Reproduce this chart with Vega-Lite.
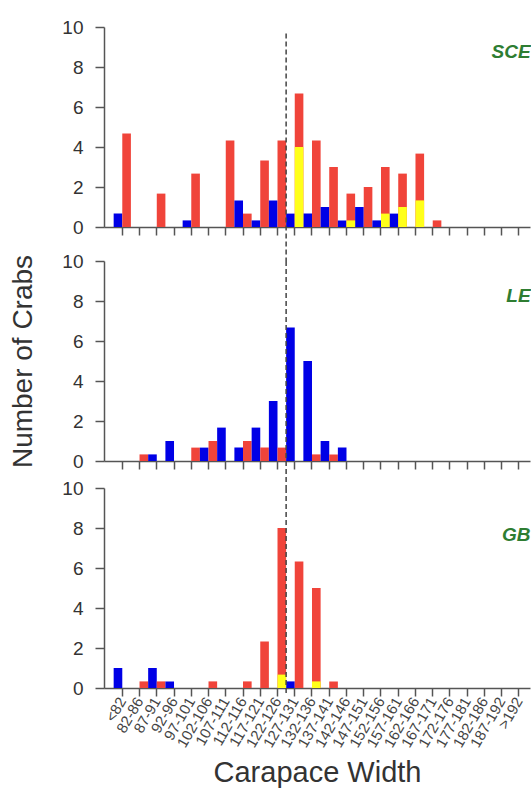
{
  "$schema": "https://vega.github.io/schema/vega-lite/v6.json",
  "background": "white",
  "padding": {"left": 9, "top": 18, "right": 0, "bottom": 0},
  "config": {
    "font": "Liberation Sans",
    "view": {"stroke": null},
    "axis": {
      "grid": false,
      "domainColor": "#555555",
      "domainWidth": 1.5,
      "tickColor": "#555555",
      "tickWidth": 1.5,
      "labelColor": "#333333",
      "titleColor": "#333333",
      "titleFontWeight": "normal",
      "labelFont": "Liberation Sans",
      "titleFont": "Liberation Sans",
      "labelOverlap": false,
      "labelFlush": false
    },
    "axisY": {"tickCount": 6, "labelOverlap": false, "labelBound": false}
  },
  "datasets": {
    "counts": [
      {"site": "SCE", "cw": "<82", "group": "M", "series": "Male", "n": 0.67},
      {"site": "SCE", "cw": "<82", "group": "F", "series": "Female", "n": 4.67},
      {"site": "SCE", "cw": "87-91", "group": "F", "series": "Female", "n": 1.67},
      {"site": "SCE", "cw": "97-101", "group": "M", "series": "Male", "n": 0.33},
      {"site": "SCE", "cw": "97-101", "group": "F", "series": "Female", "n": 2.67},
      {"site": "SCE", "cw": "107-111", "group": "F", "series": "Female", "n": 4.33},
      {"site": "SCE", "cw": "112-116", "group": "M", "series": "Male", "n": 1.33},
      {"site": "SCE", "cw": "112-116", "group": "F", "series": "Female", "n": 0.67},
      {"site": "SCE", "cw": "117-121", "group": "M", "series": "Male", "n": 0.33},
      {"site": "SCE", "cw": "117-121", "group": "F", "series": "Female", "n": 3.33},
      {"site": "SCE", "cw": "122-126", "group": "M", "series": "Male", "n": 1.33},
      {"site": "SCE", "cw": "122-126", "group": "F", "series": "Female", "n": 4.33},
      {"site": "SCE", "cw": "127-131", "group": "M", "series": "Male", "n": 0.67},
      {"site": "SCE", "cw": "127-131", "group": "F", "series": "Female", "n": 6.67},
      {"site": "SCE", "cw": "132-136", "group": "M", "series": "Male", "n": 0.67},
      {"site": "SCE", "cw": "132-136", "group": "F", "series": "Female", "n": 4.33},
      {"site": "SCE", "cw": "137-141", "group": "M", "series": "Male", "n": 1.0},
      {"site": "SCE", "cw": "137-141", "group": "F", "series": "Female", "n": 3.0},
      {"site": "SCE", "cw": "142-146", "group": "M", "series": "Male", "n": 0.33},
      {"site": "SCE", "cw": "142-146", "group": "F", "series": "Female", "n": 1.67},
      {"site": "SCE", "cw": "147-151", "group": "M", "series": "Male", "n": 1.0},
      {"site": "SCE", "cw": "147-151", "group": "F", "series": "Female", "n": 2.0},
      {"site": "SCE", "cw": "152-156", "group": "M", "series": "Male", "n": 0.33},
      {"site": "SCE", "cw": "152-156", "group": "F", "series": "Female", "n": 3.0},
      {"site": "SCE", "cw": "157-161", "group": "M", "series": "Male", "n": 0.67},
      {"site": "SCE", "cw": "157-161", "group": "F", "series": "Female", "n": 2.67},
      {"site": "SCE", "cw": "162-166", "group": "F", "series": "Female", "n": 3.67},
      {"site": "SCE", "cw": "167-171", "group": "F", "series": "Female", "n": 0.33},
      {"site": "SCE", "cw": "127-131", "group": "F", "series": "Ovigerous", "n": 4.0},
      {"site": "SCE", "cw": "142-146", "group": "F", "series": "Ovigerous", "n": 0.33},
      {"site": "SCE", "cw": "152-156", "group": "F", "series": "Ovigerous", "n": 0.67},
      {"site": "SCE", "cw": "157-161", "group": "F", "series": "Ovigerous", "n": 1.0},
      {"site": "SCE", "cw": "162-166", "group": "F", "series": "Ovigerous", "n": 1.33},

      {"site": "LE", "cw": "82-86", "group": "F", "series": "Female", "n": 0.33},
      {"site": "LE", "cw": "87-91", "group": "M", "series": "Male", "n": 0.33},
      {"site": "LE", "cw": "92-96", "group": "M", "series": "Male", "n": 1.0},
      {"site": "LE", "cw": "97-101", "group": "F", "series": "Female", "n": 0.67},
      {"site": "LE", "cw": "102-106", "group": "M", "series": "Male", "n": 0.67},
      {"site": "LE", "cw": "102-106", "group": "F", "series": "Female", "n": 1.0},
      {"site": "LE", "cw": "107-111", "group": "M", "series": "Male", "n": 1.67},
      {"site": "LE", "cw": "112-116", "group": "M", "series": "Male", "n": 0.67},
      {"site": "LE", "cw": "112-116", "group": "F", "series": "Female", "n": 1.0},
      {"site": "LE", "cw": "117-121", "group": "M", "series": "Male", "n": 1.67},
      {"site": "LE", "cw": "117-121", "group": "F", "series": "Female", "n": 0.67},
      {"site": "LE", "cw": "122-126", "group": "M", "series": "Male", "n": 3.0},
      {"site": "LE", "cw": "122-126", "group": "F", "series": "Female", "n": 0.67},
      {"site": "LE", "cw": "127-131", "group": "M", "series": "Male", "n": 6.67},
      {"site": "LE", "cw": "132-136", "group": "M", "series": "Male", "n": 5.0},
      {"site": "LE", "cw": "132-136", "group": "F", "series": "Female", "n": 0.33},
      {"site": "LE", "cw": "137-141", "group": "M", "series": "Male", "n": 1.0},
      {"site": "LE", "cw": "137-141", "group": "F", "series": "Female", "n": 0.33},
      {"site": "LE", "cw": "142-146", "group": "M", "series": "Male", "n": 0.67},

      {"site": "GB", "cw": "<82", "group": "M", "series": "Male", "n": 1.0},
      {"site": "GB", "cw": "82-86", "group": "F", "series": "Female", "n": 0.33},
      {"site": "GB", "cw": "87-91", "group": "M", "series": "Male", "n": 1.0},
      {"site": "GB", "cw": "87-91", "group": "F", "series": "Female", "n": 0.33},
      {"site": "GB", "cw": "92-96", "group": "M", "series": "Male", "n": 0.33},
      {"site": "GB", "cw": "102-106", "group": "F", "series": "Female", "n": 0.33},
      {"site": "GB", "cw": "112-116", "group": "F", "series": "Female", "n": 0.33},
      {"site": "GB", "cw": "117-121", "group": "F", "series": "Female", "n": 2.33},
      {"site": "GB", "cw": "122-126", "group": "F", "series": "Female", "n": 8.0},
      {"site": "GB", "cw": "127-131", "group": "M", "series": "Male", "n": 0.33},
      {"site": "GB", "cw": "127-131", "group": "F", "series": "Female", "n": 6.33},
      {"site": "GB", "cw": "132-136", "group": "F", "series": "Female", "n": 5.0},
      {"site": "GB", "cw": "137-141", "group": "F", "series": "Female", "n": 0.33},
      {"site": "GB", "cw": "122-126", "group": "F", "series": "Ovigerous", "n": 0.67},
      {"site": "GB", "cw": "132-136", "group": "F", "series": "Ovigerous", "n": 0.33}
    ]
  },
  "spacing": 34,
  "bounds": "flush",
  "vconcat": [
    {
      "width": 426,
      "height": 200,
      "layer": [
        {
          "data": {"name": "counts"},
          "transform": [{"filter": "datum.site === 'SCE'"}],
          "mark": {"type": "bar"},
          "encoding": {
            "x": {
              "field": "cw", "type": "nominal", "sort": null,
              "scale": {"domain": ["<82","82-86","87-91","92-96","97-101","102-106","107-111","112-116","117-121","122-126","127-131","132-136","137-141","142-146","147-151","152-156","157-161","162-166","167-171","172-176","177-181","182-186","187-192",">192"], "paddingInner": 0, "paddingOuter": 0.35, "align": 0.8},
              "axis": {"title": null, "labels": false, "tickSize": 8}
            },
            "xOffset": {"field": "group", "type": "nominal", "scale": {"domain": ["M", "F"], "paddingInner": 0, "paddingOuter": 0}},
            "y": {
              "field": "n", "type": "quantitative", "stack": null,
              "scale": {"domain": [0, 10], "nice": false},
              "axis": {"title": null, "values": [0, 2, 4, 6, 8, 10], "tickCount": 6, "labelOverlap": false, "tickSize": 9, "labelPadding": 12, "labelFontSize": 19}
            },
            "color": {
              "field": "series", "type": "nominal",
              "scale": {"domain": ["Male", "Female", "Ovigerous"], "range": ["#0000e6", "#f0443a", "#ffff1a"]},
              "legend": null
            }
          }
        },
        {
          "data": {"values": [{}]},
          "mark": {"type": "rule", "color": "#444444", "strokeWidth": 1.5, "strokeDash": [5, 3]},
          "encoding": {
            "x": {"datum": "127-131", "bandPosition": 0},
            "y": {"datum": 9.67, "scale": {"domain": [0, 10], "nice": false}, "axis": {"title": null, "values": [0, 2, 4, 6, 8, 10], "tickCount": 6, "labelOverlap": false, "tickSize": 9, "labelPadding": 12, "labelFontSize": 19}},
            "y2": {"datum": -1.7}
          }
        },
        {
          "data": {"values": [{}]},
          "mark": {"type": "text", "align": "right", "baseline": "middle", "fontStyle": "italic", "fontWeight": "bold", "fontSize": 19, "color": "#2e7d32", "dx": 3},
          "encoding": {
            "x": {"datum": ">192", "bandPosition": 1},
            "y": {"datum": 8.75, "scale": {"domain": [0, 10], "nice": false}, "axis": {"title": null, "values": [0, 2, 4, 6, 8, 10], "tickCount": 6, "labelOverlap": false, "tickSize": 9, "labelPadding": 12, "labelFontSize": 19}},
            "text": {"value": "SCE"}
          }
        }
      ]
    },
    {
      "spacing": 27,
      "bounds": "flush",
      "vconcat": [
        {
          "width": 426,
          "height": 200,
          "layer": [
            {
              "data": {"name": "counts"},
              "transform": [{"filter": "datum.site === 'LE'"}],
              "mark": {"type": "bar"},
              "encoding": {
                "x": {
                  "field": "cw", "type": "nominal", "sort": null,
                  "scale": {"domain": ["<82","82-86","87-91","92-96","97-101","102-106","107-111","112-116","117-121","122-126","127-131","132-136","137-141","142-146","147-151","152-156","157-161","162-166","167-171","172-176","177-181","182-186","187-192",">192"], "paddingInner": 0, "paddingOuter": 0.35, "align": 0.8},
                  "axis": {"title": null, "labels": false, "tickSize": 8}
                },
                "xOffset": {"field": "group", "type": "nominal", "scale": {"domain": ["M", "F"], "paddingInner": 0, "paddingOuter": 0}},
                "y": {
                  "field": "n", "type": "quantitative", "stack": null,
                  "scale": {"domain": [0, 10], "nice": false},
                  "axis": {"title": "Number of Crabs", "titleFontSize": 28, "titlePadding": 24, "values": [0, 2, 4, 6, 8, 10], "tickCount": 6, "labelOverlap": false, "tickSize": 9, "labelPadding": 12, "labelFontSize": 19}
                },
                "color": {
                  "field": "series", "type": "nominal",
                  "scale": {"domain": ["Male", "Female", "Ovigerous"], "range": ["#0000e6", "#f0443a", "#ffff1a"]},
                  "legend": null
                }
              }
            },
            {
              "data": {"values": [{}]},
              "mark": {"type": "rule", "color": "#444444", "strokeWidth": 1.5, "strokeDash": [5, 3]},
              "encoding": {
                "x": {"datum": "127-131", "bandPosition": 0},
                "y": {"datum": 10, "scale": {"domain": [0, 10], "nice": false}, "axis": {"title": "Number of Crabs", "titleFontSize": 28, "titlePadding": 24, "values": [0, 2, 4, 6, 8, 10], "tickCount": 6, "labelOverlap": false, "tickSize": 9, "labelPadding": 12, "labelFontSize": 19}},
                "y2": {"datum": -1.35}
              }
            },
            {
              "data": {"values": [{}]},
              "mark": {"type": "text", "align": "right", "baseline": "middle", "fontStyle": "italic", "fontWeight": "bold", "fontSize": 19, "color": "#2e7d32", "dx": 3},
              "encoding": {
                "x": {"datum": ">192", "bandPosition": 1},
                "y": {"datum": 8.25, "scale": {"domain": [0, 10], "nice": false}, "axis": {"title": "Number of Crabs", "titleFontSize": 28, "titlePadding": 24, "values": [0, 2, 4, 6, 8, 10], "tickCount": 6, "labelOverlap": false, "tickSize": 9, "labelPadding": 12, "labelFontSize": 19}},
                "text": {"value": "LE"}
              }
            }
          ]
        },
        {
          "width": 426,
          "height": 200,
          "layer": [
            {
              "data": {"name": "counts"},
              "transform": [{"filter": "datum.site === 'GB'"}],
              "mark": {"type": "bar"},
              "encoding": {
                "x": {
                  "field": "cw", "type": "nominal", "sort": null,
                  "scale": {"domain": ["<82","82-86","87-91","92-96","97-101","102-106","107-111","112-116","117-121","122-126","127-131","132-136","137-141","142-146","147-151","152-156","157-161","162-166","167-171","172-176","177-181","182-186","187-192",">192"], "paddingInner": 0, "paddingOuter": 0.35, "align": 0.8},
                  "axis": {"title": "Carapace Width", "titleFontSize": 29, "titlePadding": 9, "tickSize": 8, "labelAngle": -60, "labelAlign": "right", "labelBaseline": "middle", "labelFontSize": 15, "labelPadding": 2, "labelColor": "#444444"}
                },
                "xOffset": {"field": "group", "type": "nominal", "scale": {"domain": ["M", "F"], "paddingInner": 0, "paddingOuter": 0}},
                "y": {
                  "field": "n", "type": "quantitative", "stack": null,
                  "scale": {"domain": [0, 10], "nice": false},
                  "axis": {"title": null, "values": [0, 2, 4, 6, 8, 10], "tickCount": 6, "labelOverlap": false, "tickSize": 9, "labelPadding": 12, "labelFontSize": 19}
                },
                "color": {
                  "field": "series", "type": "nominal",
                  "scale": {"domain": ["Male", "Female", "Ovigerous"], "range": ["#0000e6", "#f0443a", "#ffff1a"]},
                  "legend": null
                }
              }
            },
            {
              "data": {"values": [{}]},
              "mark": {"type": "rule", "color": "#444444", "strokeWidth": 1.5, "strokeDash": [5, 3]},
              "encoding": {
                "x": {"datum": "127-131", "bandPosition": 0},
                "y": {"datum": 10, "scale": {"domain": [0, 10], "nice": false}, "axis": {"title": null, "values": [0, 2, 4, 6, 8, 10], "tickCount": 6, "labelOverlap": false, "tickSize": 9, "labelPadding": 12, "labelFontSize": 19}},
                "y2": {"datum": -0.3}
              }
            },
            {
              "data": {"values": [{}]},
              "mark": {"type": "text", "align": "right", "baseline": "middle", "fontStyle": "italic", "fontWeight": "bold", "fontSize": 19, "color": "#2e7d32", "dx": 3},
              "encoding": {
                "x": {"datum": ">192", "bandPosition": 1},
                "y": {"datum": 7.65, "scale": {"domain": [0, 10], "nice": false}, "axis": {"title": null, "values": [0, 2, 4, 6, 8, 10], "tickCount": 6, "labelOverlap": false, "tickSize": 9, "labelPadding": 12, "labelFontSize": 19}},
                "text": {"value": "GB"}
              }
            }
          ]
        }
      ]
    }
  ]
}
